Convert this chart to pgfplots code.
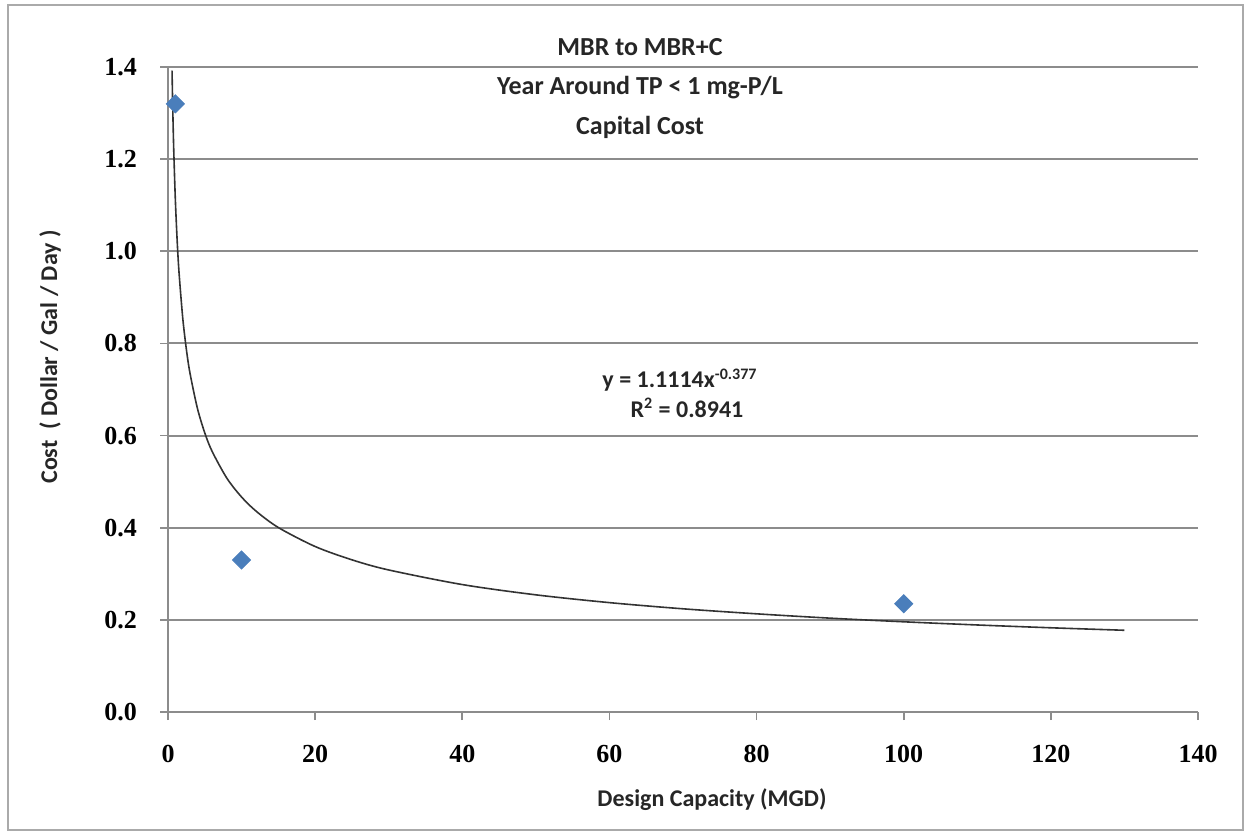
\documentclass[border=0pt]{standalone}
\usepackage{pgfplots}
\pgfplotsset{compat=1.18}
\usepackage{fontspec}
\setmainfont{Carlito}
\newfontfamily\tickfont{Liberation Serif}
\definecolor{gridgray}{RGB}{140,140,140}
\definecolor{frame}{RGB}{170,170,170}
\definecolor{mblue}{RGB}{74,126,187}
\begin{document}
\begin{tikzpicture}
\useasboundingbox (0pt,0pt) rectangle (625.5pt,418pt);
\draw[frame, line width=1pt] (4pt,3pt) rectangle (621.5pt,415.5pt);
\begin{axis}[at={(84pt,62pt)}, anchor=origin,
  width=515pt, height=322.5pt, scale only axis,
  xmin=0, xmax=140, ymin=0, ymax=1.4,
  xtick={0,20,...,140}, ytick={0,0.2,0.4,0.6,0.8,1.0,1.2,1.4},
  axis lines=left,
  axis line style={draw=gridgray, line width=1pt, -},
  tick align=outside, major tick length=4pt,
  tick style={draw=gridgray, line width=0.8pt},
  ymajorgrids, grid style={draw=gridgray, line width=1pt},
  /pgf/number format/assume math mode=true,
  ticklabel style={font=\tickfont\bfseries\fontsize{13}{13}\selectfont, text=black},
  yticklabel style={/pgf/number format/fixed, /pgf/number format/precision=1,
    /pgf/number format/fixed zerofill, xshift=-8pt},
  xticklabel style={/pgf/number format/fixed, yshift=-9pt},
  clip=false,
]
\addplot[black!80, line width=0.8pt, smooth] coordinates {
(0.55,1.392) (0.6,1.3475) (0.7,1.2713) (0.8,1.2090) (1,1.1114) (1.25,1.0217)
(1.5,0.9538) (2,0.8558) (2.5,0.7868) (3,0.7345) (4,0.6590) (5,0.6058)
(6,0.5656) (8,0.5075) (10,0.4666) (12,0.4356) (15,0.4004) (20,0.3592)
(25,0.3303) (30,0.3083) (40,0.2766) (50,0.2543) (60,0.2374) (70,0.2240)
(80,0.2131) (90,0.2037) (100,0.1958) (110,0.1889) (120,0.1828) (130,0.1774)
};
\addplot[only marks, mark=square*, mark size=3.2pt, mark options={draw=mblue, fill=mblue, rotate=45}] coordinates {
(1,1.32) (10,0.33) (100,0.235)
};
\end{axis}
\begin{scope}[font=\bfseries\fontsize{13}{15}\selectfont, text=black!85]
\node at (320pt,394.5pt) {MBR to MBR+C};
\node at (320pt,374pt) {Year Around TP < 1 mg-P/L};
\node at (320pt,354.5pt) {Capital Cost};
\end{scope}
\begin{scope}[font=\bfseries\fontsize{12}{14}\selectfont, text=black!85]
\node at (340pt,228pt) {y = 1.1114x\textsuperscript{-0.377}};
\node at (343.5pt,214pt) {R\textsuperscript{2} = 0.8941};
\node at (356pt,18pt) {Design Capacity (MGD)};
\node[rotate=90] at (25pt,239.5pt) {Cost \ ( Dollar / Gal / Day )};
\end{scope}
\end{tikzpicture}
\end{document}
